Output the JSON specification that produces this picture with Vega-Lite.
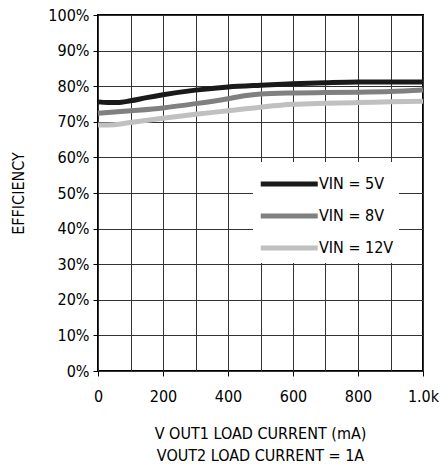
{
  "$schema": "https://vega.github.io/schema/vega-lite/v6.json",
  "autosize": "none",
  "width": 325,
  "height": 356,
  "padding": {"left": 98, "top": 15, "right": 18, "bottom": 97},
  "background": "white",
  "config": {
    "font": "DejaVu Sans Condensed",
    "view": {"stroke": "black", "strokeWidth": 2}
  },
  "data": {
    "values": [
      {"load": 0, "eff": 75.6, "vin": "VIN = 5V"},
      {"load": 30, "eff": 75.4, "vin": "VIN = 5V"},
      {"load": 60, "eff": 75.4, "vin": "VIN = 5V"},
      {"load": 100, "eff": 75.9, "vin": "VIN = 5V"},
      {"load": 150, "eff": 76.8, "vin": "VIN = 5V"},
      {"load": 200, "eff": 77.6, "vin": "VIN = 5V"},
      {"load": 300, "eff": 78.9, "vin": "VIN = 5V"},
      {"load": 400, "eff": 79.8, "vin": "VIN = 5V"},
      {"load": 500, "eff": 80.3, "vin": "VIN = 5V"},
      {"load": 600, "eff": 80.7, "vin": "VIN = 5V"},
      {"load": 700, "eff": 81.0, "vin": "VIN = 5V"},
      {"load": 800, "eff": 81.2, "vin": "VIN = 5V"},
      {"load": 900, "eff": 81.2, "vin": "VIN = 5V"},
      {"load": 1000, "eff": 81.2, "vin": "VIN = 5V"},
      {"load": 0, "eff": 72.4, "vin": "VIN = 8V"},
      {"load": 100, "eff": 73.1, "vin": "VIN = 8V"},
      {"load": 200, "eff": 73.9, "vin": "VIN = 8V"},
      {"load": 300, "eff": 75.1, "vin": "VIN = 8V"},
      {"load": 400, "eff": 76.5, "vin": "VIN = 8V"},
      {"load": 450, "eff": 77.3, "vin": "VIN = 8V"},
      {"load": 500, "eff": 77.8, "vin": "VIN = 8V"},
      {"load": 600, "eff": 78.1, "vin": "VIN = 8V"},
      {"load": 700, "eff": 78.2, "vin": "VIN = 8V"},
      {"load": 800, "eff": 78.3, "vin": "VIN = 8V"},
      {"load": 900, "eff": 78.5, "vin": "VIN = 8V"},
      {"load": 1000, "eff": 78.9, "vin": "VIN = 8V"},
      {"load": 0, "eff": 69.1, "vin": "VIN = 12V"},
      {"load": 50, "eff": 69.2, "vin": "VIN = 12V"},
      {"load": 100, "eff": 69.8, "vin": "VIN = 12V"},
      {"load": 200, "eff": 71.0, "vin": "VIN = 12V"},
      {"load": 300, "eff": 72.1, "vin": "VIN = 12V"},
      {"load": 400, "eff": 73.1, "vin": "VIN = 12V"},
      {"load": 500, "eff": 74.1, "vin": "VIN = 12V"},
      {"load": 600, "eff": 74.9, "vin": "VIN = 12V"},
      {"load": 700, "eff": 75.2, "vin": "VIN = 12V"},
      {"load": 800, "eff": 75.4, "vin": "VIN = 12V"},
      {"load": 900, "eff": 75.6, "vin": "VIN = 12V"},
      {"load": 1000, "eff": 75.8, "vin": "VIN = 12V"}
    ]
  },
  "mark": {"type": "line", "strokeWidth": 5, "interpolate": "monotone", "strokeCap": "butt"},
  "encoding": {
    "x": {
      "field": "load",
      "type": "quantitative",
      "scale": {"domain": [0, 1000], "nice": false},
      "axis": {
        "values": [0, 100, 200, 300, 400, 500, 600, 700, 800, 900, 1000],
        "labelExpr": "datum.value % 200 != 0 ? '' : (datum.value == 1000 ? '1.0k' : datum.label)",
        "domain": false,
        "grid": true,
        "gridColor": "#333",
        "gridOpacity": 1,
        "gridWidth": 1,
        "tickColor": "black",
        "tickSize": 5,
        "tickOpacity": {"condition": {"test": "datum.value % 200 != 0", "value": 0}, "value": 1},
        "labelFontSize": 16,
        "labelColor": "black",
        "labelPadding": 12,
        "labelFlush": false,
        "title": ["V OUT1 LOAD CURRENT (mA)", "VOUT2 LOAD CURRENT = 1A"],
        "titleFontSize": 16,
        "titleFontWeight": "normal",
        "titleColor": "black",
        "titleLineHeight": 22,
        "titleBaseline": "top",
        "titleX": 162,
        "titleY": 54
      }
    },
    "y": {
      "field": "eff",
      "type": "quantitative",
      "scale": {"domain": [0, 100], "nice": false},
      "axis": {
        "values": [0, 10, 20, 30, 40, 50, 60, 70, 80, 90, 100],
        "labelExpr": "datum.value + '%'",
        "domain": false,
        "grid": true,
        "gridColor": "#333",
        "gridOpacity": 1,
        "gridWidth": 1,
        "tickColor": "black",
        "tickSize": 5,
        "labelFontSize": 16,
        "labelColor": "black",
        "labelPadding": 4,
        "title": "EFFICIENCY",
        "titleFontSize": 16,
        "titleFontWeight": "normal",
        "titleColor": "black",
        "titleX": -80,
        "titleY": 178,
        "titleBaseline": "middle",
        "titleAlign": "center"
      }
    },
    "color": {
      "field": "vin",
      "type": "nominal",
      "scale": {"domain": ["VIN = 5V", "VIN = 8V", "VIN = 12V"], "range": ["#1a1a1a", "#808080", "#c0c0c0"]},
      "legend": {
        "title": null,
        "orient": "none",
        "legendX": 155,
        "legendY": 147,
        "fillColor": "white",
        "padding": 5,
        "symbolType": "M-1,0H3",
        "symbolSize": 812,
        "symbolStrokeWidth": 5,
        "labelFontSize": 16,
        "labelColor": "black",
        "labelOffset": 27,
        "rowPadding": 5
      }
    }
  }
}
